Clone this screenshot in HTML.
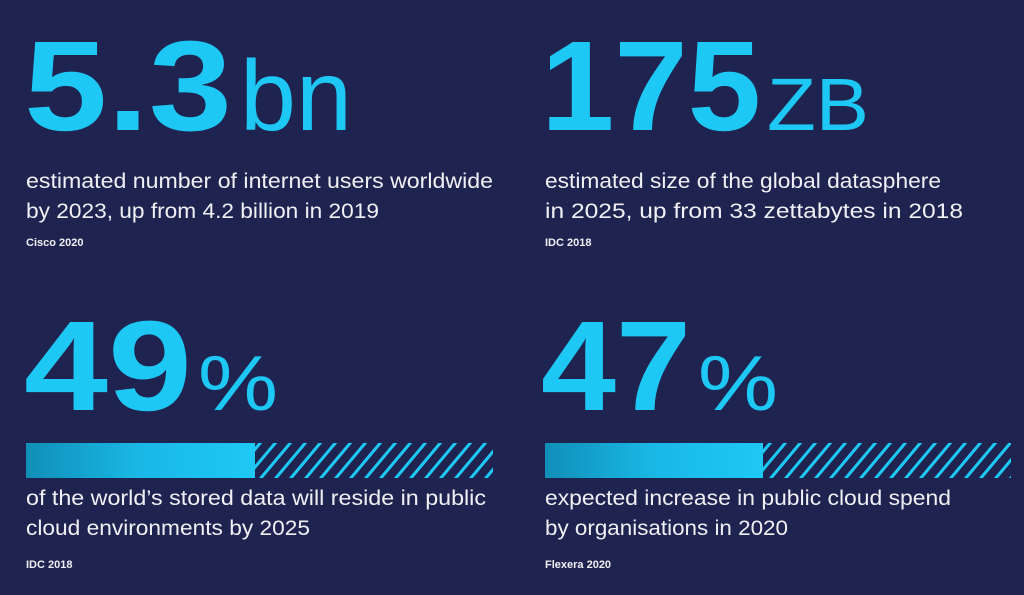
<!DOCTYPE html>
<html><head><meta charset="utf-8"><style>
html,body{margin:0;padding:0;background:#1e2350;}
svg{display:block}
</style></head><body>
<svg width="1024" height="595" viewBox="0 0 1024 595" xmlns="http://www.w3.org/2000/svg" font-family="Liberation Sans, sans-serif">
<defs>
<linearGradient id="g" x1="0" x2="1" y1="0" y2="0">
<stop offset="0" stop-color="#0f8fb8"/><stop offset="0.5" stop-color="#1ab8e6"/><stop offset="1" stop-color="#1ec8f5"/>
</linearGradient>
<pattern id="h" width="15" height="36" patternUnits="userSpaceOnUse" patternTransform="skewX(-40)">
<rect x="0" y="0" width="4" height="36" fill="#1ec8f5"/>
</pattern>
</defs>
<rect width="1024" height="595" fill="#1e2350"/>
<g fill="#1ec8f5">
<text x="24" y="130" font-size="128" font-weight="bold" textLength="208" lengthAdjust="spacingAndGlyphs">5.3</text>
<text x="240" y="130" font-size="100" textLength="112" lengthAdjust="spacingAndGlyphs">bn</text>
<text x="541" y="130" font-size="128" font-weight="bold" textLength="220" lengthAdjust="spacingAndGlyphs">175</text>
<text x="767" y="130" font-size="74" textLength="102" lengthAdjust="spacingAndGlyphs">ZB</text>
<text x="24" y="410" font-size="128" font-weight="bold" textLength="168" lengthAdjust="spacingAndGlyphs">49</text>
<text x="198" y="410" font-size="78" textLength="80" lengthAdjust="spacingAndGlyphs">%</text>
<text x="541" y="410" font-size="128" font-weight="bold" textLength="150" lengthAdjust="spacingAndGlyphs">47</text>
<text x="698" y="410" font-size="78" textLength="80" lengthAdjust="spacingAndGlyphs">%</text>
</g>
<rect x="26" y="443" width="229" height="35" fill="url(#g)"/>
<rect x="255" y="443" width="238" height="35" fill="url(#h)"/>
<rect x="545" y="443" width="218" height="35" fill="url(#g)"/>
<rect x="763" y="443" width="248" height="35" fill="url(#h)"/>
<g fill="#f0f0f4" font-size="21">
<text x="26" y="188" textLength="467" lengthAdjust="spacingAndGlyphs">estimated number of internet users worldwide</text>
<text x="26" y="218" textLength="353" lengthAdjust="spacingAndGlyphs">by 2023, up from 4.2 billion in 2019</text>
<text x="545" y="188" textLength="396" lengthAdjust="spacingAndGlyphs">estimated size of the global datasphere</text>
<text x="545" y="218" textLength="418" lengthAdjust="spacingAndGlyphs">in 2025, up from 33 zettabytes in 2018</text>
<text x="26" y="505" textLength="460" lengthAdjust="spacingAndGlyphs">of the world’s stored data will reside in public</text>
<text x="26" y="535" textLength="284" lengthAdjust="spacingAndGlyphs">cloud environments by 2025</text>
<text x="545" y="505" textLength="406" lengthAdjust="spacingAndGlyphs">expected increase in public cloud spend</text>
<text x="545" y="535" textLength="243" lengthAdjust="spacingAndGlyphs">by organisations in 2020</text>
</g>
<g fill="#f0f0f4" font-size="11" font-weight="bold">
<text x="26" y="246">Cisco 2020</text>
<text x="545" y="246">IDC 2018</text>
<text x="26" y="568">IDC 2018</text>
<text x="545" y="568">Flexera 2020</text>
</g>
</svg>
</body></html>
